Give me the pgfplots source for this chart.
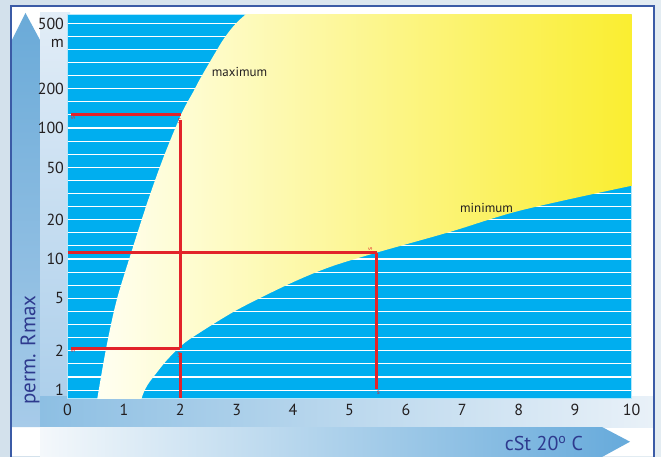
\documentclass[border=0pt]{standalone}
\usepackage{pgfplots}
\pgfplotsset{compat=1.18}
\usepackage{fontspec}
\setmainfont{PT Sans}
\definecolor{barblue}{HTML}{00AEEF}
\definecolor{redline}{HTML}{E2232A}
\definecolor{labelgray}{HTML}{231F20}
\definecolor{titleblue}{HTML}{2E3A8E}
\definecolor{panelborder}{HTML}{3B5BA6}
\definecolor{bgA}{HTML}{D3E1EC}
\definecolor{bgB}{HTML}{E3ECF2}
\definecolor{colTop}{HTML}{E2EDF7}
\definecolor{colBot}{HTML}{A9CDEA}
\definecolor{bandL}{HTML}{8DBFE3}
\definecolor{bandR}{HTML}{E9F1F8}
\definecolor{arrTop}{HTML}{6AAAD8}
\definecolor{arrBot}{HTML}{A7CBE9}
\definecolor{xaL}{HTML}{F4F8FB}
\definecolor{xaM}{HTML}{C9DFF0}
\definecolor{xaR}{HTML}{66AADB}
\definecolor{creamL}{HTML}{FFFFF3}
\definecolor{yelM}{HTML}{F9EF9E}
\definecolor{yelR}{HTML}{F9EB14}
\begin{document}
\begin{tikzpicture}[x=1pt,y=1pt]
\useasboundingbox (0,0) rectangle (661,456);
% page background
\shade[left color=bgA, right color=bgB] (0,0) rectangle (661,456);
% white panel
\fill[white] (11,0) rectangle (654,450);
% light frame around the plot
\shade[top color=colTop, bottom color=colBot] (40,29) rectangle (70,443);
\shade[left color=bandL, right color=bandR] (40,29) rectangle (654,60);
% y arrow
\shade[top color=arrTop, bottom color=arrBot] (12,29) -- (12,416) -- (25.5,443) -- (40,416) -- (40,29) -- cycle;
% x arrow
\shade[left color=xaL, middle color=xaM, right color=xaR] (40,29) -- (602,29) -- (630,14.3) -- (602,-1) -- (40,-1) -- cycle;
% panel border
\draw[panelborder, line width=1.3] (11,-2) -- (11,450) -- (654,450) -- (654,-2);
% axis titles
\node[rotate=90, text=titleblue, font=\fontsize{21}{22}\selectfont] at (30,106) {perm. Rmax};
\node[anchor=base, text=titleblue, font=\fontsize{20}{22}\selectfont] at (544,5.3) {cSt 20\textsuperscript{o} C};
\begin{axis}[
  at={(67.5pt,58pt)}, anchor=south west,
  scale only axis, width=564pt, height=384pt,
  xmin=0, xmax=10,
  ymode=log, ymin=0.87, ymax=741,
  axis background/.style={fill=barblue},
  xtick={0,1,2,3,4,5,6,7,8,9,10},
  xticklabels={0,1,2,3,4,5,6,7,8,9,10},
  ytick={1,2,5,10,20,50,100,200},
  yticklabels={1,2,5,10,20,50,100,200},
  extra y ticks={500},
  extra y tick labels={{500\\m}},
  extra y tick style={grid=none, yticklabel style={align=right, yshift=4pt}},
  minor ytick={1,1.259,1.585,1.995,2.512,3.162,3.981,5.012,6.310,7.943,10,12.59,15.85,19.95,25.12,31.62,39.81,50.12,63.10,79.43,100,125.9,158.5,199.5,251.2,316.2,398.1,501.2,631.0},
  yminorgrids=true, ymajorgrids=false, xmajorgrids=false,
  minor grid style={white, line width=1.1pt},
  major grid style={white, line width=1.1pt},
  major tick length=0pt, minor tick length=0pt,
  axis line style={draw=white!70!barblue, line width=1pt},
  tick label style={font=\fontsize{16}{18}\selectfont, text=labelgray},
  xticklabel style={yshift=-3pt},
  /pgf/number format/assume math mode=true,
]
% region between the maximum and minimum curves
\addplot[draw=none, smooth, left color=creamL, middle color=yelM, right color=yelR] coordinates {
  (0.47,0.59) (0.53,0.87) (0.69,2.14) (0.872,4.86) (1.13,11.2) (1.43,28.2)
  (1.716,61.9) (2.025,129.5) (2.23,189) (2.355,239) (2.615,372) (2.757,469)
  (2.935,593) (3.148,729) (3.61,1038) (6.5,1300) (10.8,1000) (10.8,40)
  (10.3,37.5) (9.97,36) (8.02,23.4) (6.78,16.1) (5.482,11.2) (4.654,8.7)
  (3.945,6.5) (3.0,4.08) (2.23,2.55) (1.995,2.14) (1.76,1.69) (1.58,1.355)
  (1.417,1.09) (1.315,0.87) (1.23,0.59)};
% red reading lines
\addplot[redline, line width=2.4pt] coordinates {(0.07,127) (2.02,127)};
\addplot[redline, line width=2.4pt] coordinates {(2.0,115) (2.0,2.08)};
\addplot[redline, line width=2.4pt] coordinates {(2.0,1.93) (2.0,0.87)};
\addplot[redline, line width=2.4pt] coordinates {(0,11.2) (5.48,11.2)};
\addplot[redline, line width=2.4pt] coordinates {(5.48,11.2) (5.48,1.02)};
\addplot[redline, line width=2.4pt] coordinates {(0.07,2.08) (2.0,2.08)};
% small markers
\node[text=redline, font=\fontsize{7}{7}\selectfont, rotate=90] at (axis cs:0.1,119) {s};
\node[text=redline, font=\fontsize{7}{7}\selectfont] at (axis cs:1.985,113) {S};
\node[text=redline, font=\fontsize{7}{7}\selectfont, rotate=90] at (axis cs:5.37,11.9) {s};
\node[text=redline, font=\fontsize{7}{7}\selectfont] at (axis cs:5.51,0.95) {s};
\node[text=redline, font=\fontsize{7}{7}\selectfont, rotate=90] at (axis cs:0.1,1.98) {s};
\node[text=redline, font=\fontsize{7}{7}\selectfont] at (axis cs:1.98,1.85) {S};
% curve labels
\node[text=labelgray, font=\fontsize{13}{14}\selectfont] at (axis cs:3.05,267) {maximum};
\node[text=labelgray, font=\fontsize{13}{14}\selectfont] at (axis cs:7.43,24.5) {minimum};
\end{axis}
\end{tikzpicture}
\end{document}
